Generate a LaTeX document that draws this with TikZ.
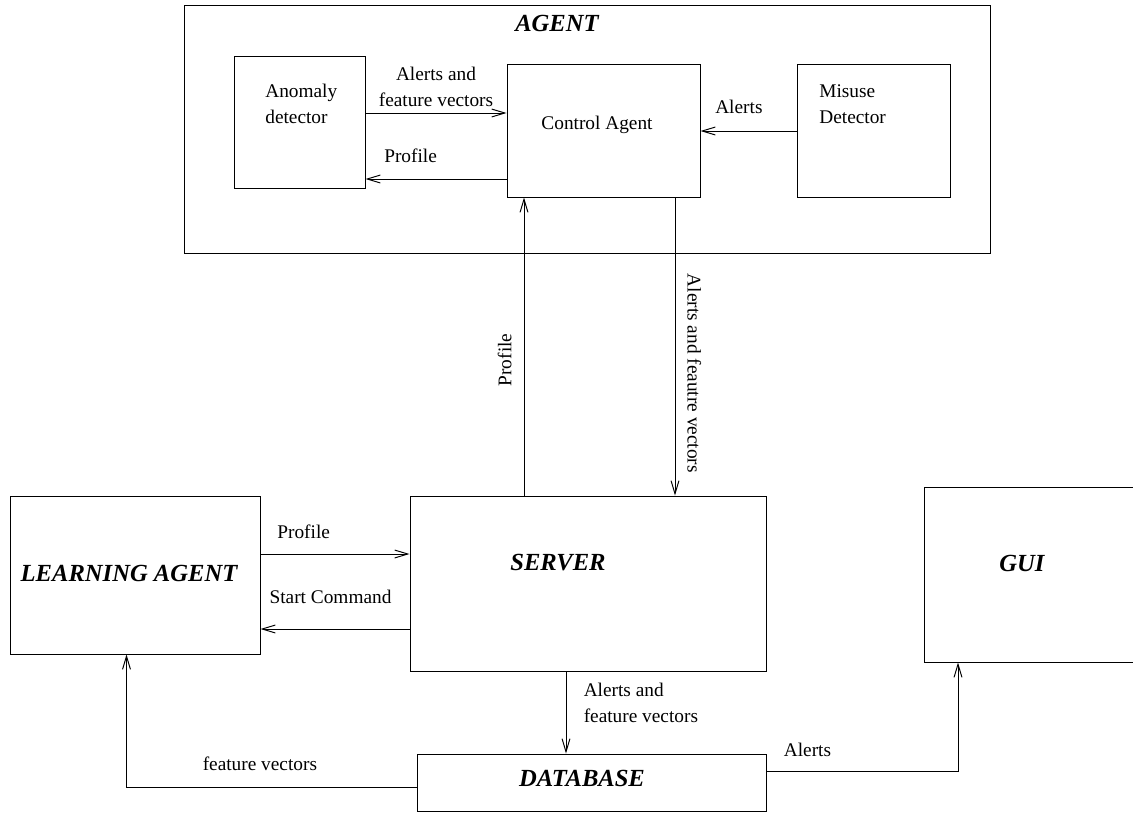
\documentclass[tikz,border=0pt]{standalone}
\usepackage{fontspec}
\setmainfont{Liberation Serif}
\usetikzlibrary{arrows.meta}

\begin{document}
\begin{tikzpicture}[x=0.02cm, y=-0.02cm, line width=0.55pt,
        >={Straight Barb[length=7.5pt,width=4.5pt]},
        blk/.style 2 args={draw, line width=0.55pt, minimum width=#1*0.02cm, minimum height=#2*0.02cm, inner sep=0pt},
        txt/.style={font=\fontsize{11}{14.7}\selectfont, align=left},
        bigname/.style={font=\fontsize{14}{16}\selectfont\bfseries\itshape}]
            \useasboundingbox (0,0) rectangle (1133,812);

            \node[blk={806}{248}] at (587,129) (agent) {};
            \node[bigname] at (557,23) (agentName) {AGENT};

            \node[blk={131}{132}] at (299.5,122) (anomaly) {};
            \node[txt, anchor=west] at (259,104) (anomalyName) {Anomaly\\detector};

            \node[blk={193}{133}] at (603.5,130.5) (control) {};
            \node[txt] at (597,125) (controlName) {Control Agent};

            \node[blk={153}{133}] at (873.5,130.5) (misuse) {};
            \node[txt, anchor=west] at (813,104) (misuseName) {Misuse\\Detector};

            \node[blk={250}{158}] at (135,575) (learning) {};
            \node[bigname] at (129,573) (learningName) {LEARNING AGENT};

            \node[blk={356}{175}] at (588,583.5) (server) {};
            \node[bigname] at (558,563) (serverName) {SERVER};

            \node[blk={212}{175}] at (1030,574.5) (gui) {};
            \node[bigname] at (1022,563) (guiName) {GUI};

            \node[blk={349}{57}] at (591.5,782.5) (database) {};
            \node[bigname] at (582,778) (databaseName) {DATABASE};

            \draw[->](anomaly.east |- 0,113) -- (control.west |- 0,113)
                node[txt, align=center, midway, above=0pt] {Alerts and\\feature vectors};
            \draw[->](control.west |- 0,179) -- (anomaly.east |- 0,179)
                node[txt, pos=0.68, above=5.4pt] {Profile};
            \draw[->](misuse.west |- 0,131) -- (control.east |- 0,131)
                node[txt, pos=0.6, above=6pt] {Alerts};

            \draw[->](server.north -| 524,0) -- (control.south -| 524,0)
                node[txt, pos=0.455, rotate=90, anchor=south, inner ysep=6.8pt] {Profile};
            \draw[->](control.south -| 675,0) -- (server.north -| 675,0)
                node[txt, pos=0.59, rotate=-90, anchor=south, inner ysep=6.8pt] {Alerts and feautre vectors};

            \draw[->](learning.east |- 0,554) -- (server.west |- 0,554)
                node[txt, pos=0.29, above=5.2pt] {Profile};
            \draw[->](server.west |- 0,629) -- (learning.east |- 0,629)
                node[txt, pos=0.53, above=11pt] {Start Command};

            \draw[->](server.south -| 566,0) -- (database.north -| 566,0)
                node[txt, pos=0.38, right=6.5pt] {Alerts and\\feature vectors};
            \draw[->](database.west |- 0,787) -| (learning.south -| 126.5,0)
                node[txt, pos=0.27, above=5.4pt] {feature vectors};
            \draw[->](database.east |- 0,771) -| (gui.south -| 958,0)
                node[txt, pos=0.107, above=4.6pt] {Alerts};
        \end{tikzpicture}
\end{document}
